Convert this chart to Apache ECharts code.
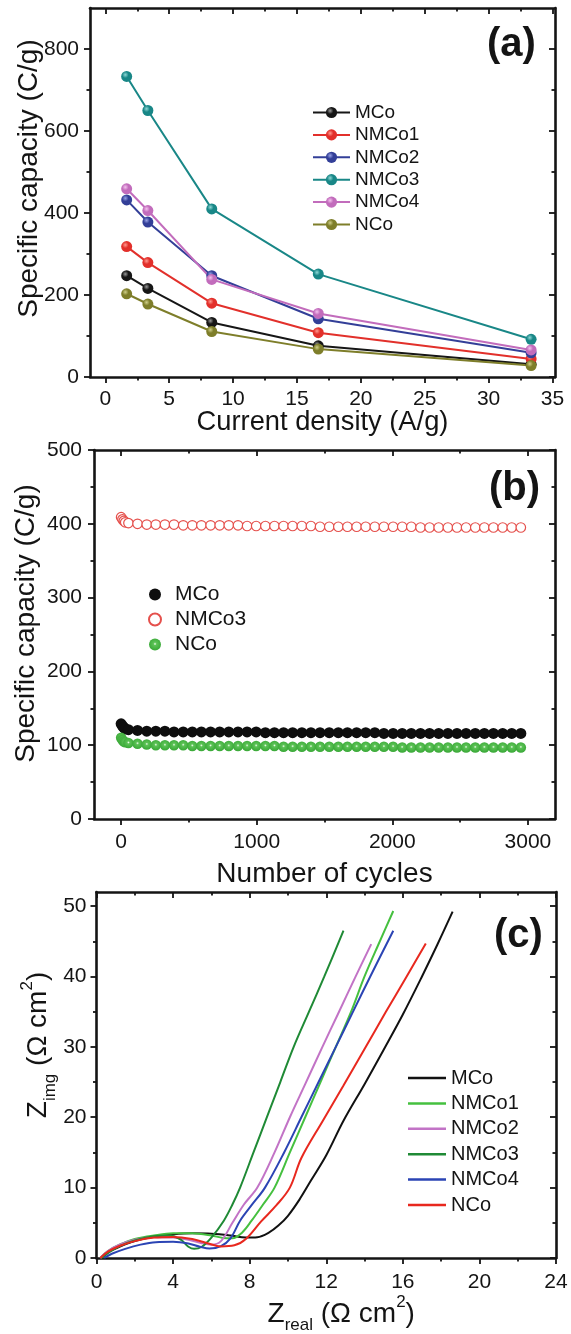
<!DOCTYPE html>
<html><head><meta charset="utf-8">
<script src="https://cdn.jsdelivr.net/npm/echarts@6/dist/echarts.min.js"></script>
<style>html,body{margin:0;padding:0;background:#fff}#c{width:571px;height:1334px}</style>
</head><body><div id="c"></div>
<script>
// ---------- Panel (a): rate capability ----------
const densityA   = [1.67, 3.33, 8.33, 16.67, 33.33];
const capA_MCo   = [247, 216, 133, 76, 31];
const capA_NMCo1 = [318, 279, 180, 108, 44];
const capA_NMCo2 = [432, 378, 247, 142, 59];
const capA_NMCo3 = [733, 650, 410, 251, 92];
const capA_NMCo4 = [459, 406, 238, 155, 66];
const capA_NCo   = [203, 178, 111, 68, 28];
const ticksAx = [0, 5, 10, 15, 20, 25, 30, 35];
const minorAx = [2.5, 7.5, 12.5, 17.5, 22.5, 27.5, 32.5];
const ticksAy = [0, 200, 400, 600, 800];
const minorAy = [100, 300, 500, 700];

// ---------- Panel (b): cycling stability ----------
const cyclesB = [0,10,20,30,54,121,189,256,323,390,458,525,
  592,660,727,794,862,929,996,1064,1131,1198,1265,1333,
  1400,1467,1535,1602,1669,1737,1804,1871,1938,2006,2073,2140,
  2208,2275,2342,2410,2477,2544,2612,2679,2746,2814,2881,2948];
const capB_MCo = [129,126,124,122,121,120,119,119,119,118,118,118,
  118,118,118,118,118,118,118,117,117,117,117,117,
  117,117,117,117,117,117,117,117,116,116,116,116,
  116,116,116,116,116,116,116,116,116,116,116,116];
const capB_NMCo3 = [409,406,404,402,401,400,399,399,399,399,398,398,
  398,398,398,398,398,397,397,397,397,397,397,397,
  397,396,396,396,396,396,396,396,396,396,396,396,
  395,395,395,395,395,395,395,395,395,395,395,395];
const capB_NCo = [110,107,105,104,103,102,101,100,100,100,100,99,
  99,99,99,99,99,99,99,99,99,98,98,98,
  98,98,98,98,98,98,98,98,98,98,97,97,
  97,97,97,97,97,97,97,97,97,97,97,97];
const ticksBx = [0, 1000, 2000, 3000];
const minorBx = [500, 1500, 2500];
const ticksBy = [0, 100, 200, 300, 400, 500];
const minorBy = [50, 150, 250, 350, 450];

// ---------- Panel (c): Nyquist plots [Zreal, Zimg] ----------
const nyqMCo = [[0.2,0],[0.6,0.8],[1.2,1.6],[2,2.4],[3,3.0],[4,3.35],[5,3.5],[6,3.45],[7,3.2],[7.8,2.9],[8.4,2.95],[9,3.6],[9.5,4.6],[10,6],[10.6,8.3],[11.2,11],[12,14.6],[12.9,19.5],[14,24.7],[15,29.6],[16,34.6],[17,40],[17.8,44.5],[18.6,49.2]];
const nyqNMCo1 = [[0.2,0],[0.6,1.0],[1.2,1.9],[2,2.7],[3,3.2],[4,3.5],[5,3.5],[6,3.2],[6.6,2.85],[7.1,2.8],[7.6,3.6],[8.1,5.3],[8.7,7.6],[9.3,10],[10.1,15],[10.9,20],[11.7,25],[12.5,30],[13.3,35],[14.0,40],[14.8,45],[15.5,49.3]];
const nyqNMCo2 = [[0.2,0],[0.6,1.0],[1.2,1.9],[2,2.6],[3,2.95],[4,2.9],[4.8,2.6],[5.5,2.1],[6,1.9],[6.5,2.4],[7.1,5.0],[7.7,7.6],[8.4,10],[9.3,15],[10.1,20],[10.9,24.7],[11.8,30],[12.6,34.6],[13.5,39.8],[14.35,44.6]];
const nyqNMCo3 = [[0.3,0],[0.7,0.9],[1.3,1.8],[2,2.5],[3,3.1],[3.8,3.2],[4.4,2.6],[4.8,1.6],[5.1,1.3],[5.5,1.6],[6,2.9],[6.65,5.3],[7.1,7.6],[7.5,10],[8.2,15],[8.9,20],[9.6,25],[10.3,30],[11.1,35],[11.9,40],[12.9,46.5]];
const nyqNMCo4 = [[0.4,0],[0.8,0.6],[1.5,1.3],[2.3,1.9],[3.1,2.25],[4,2.3],[4.8,2.05],[5.4,1.6],[5.9,1.35],[6.5,1.7],[7,2.8],[7.5,5.3],[8.1,7.5],[8.8,10],[9.8,15],[10.7,20],[11.6,25],[12.5,30],[13.4,35],[14.3,40],[15.5,46.5]];
const nyqNCo = [[0.2,0],[0.6,0.9],[1.2,1.7],[2,2.4],[3,2.9],[4,3.0],[5,2.7],[5.8,2.1],[6.5,1.65],[7.2,1.8],[7.8,2.7],[8.6,5.2],[9.4,7.5],[10.1,10],[10.7,14.2],[11.8,19.4],[12.9,24.5],[14.0,29.7],[15.1,34.9],[16.2,40.0],[17.2,44.7]];
const ticksCx = [0, 4, 8, 12, 16, 20, 24];
const minorCx = [2, 6, 10, 14, 18, 22];
const ticksCy = [0, 10, 20, 30, 40, 50];
const minorCy = [5, 15, 25, 35, 45];

const FF = "'Liberation Sans', Arial, sans-serif";
const INK = '#141414';

function tk(vals, len, inside) {
  return {show: true, customValues: vals, length: len, inside: inside, lineStyle: {color: INK, width: 1.8}};
}
function axisSet(dim, gi, s) {
  const pos = dim === 'x' ? ['bottom', 'top'] : ['left', 'right'];
  const base = {gridIndex: gi, type: 'value', min: s.min, max: s.max, scale: false,
    splitLine: {show: false}, silent: true, axisPointer: {show: false}};
  const line = {show: true, onZero: false, lineStyle: {color: INK, width: 2.6}};
  const noLine = {show: false, onZero: false};
  const off = {show: false};
  return [
    Object.assign({}, base, {position: pos[0], axisLine: line, axisTick: tk(s.major, 6, false),
      axisLabel: {customValues: s.major, margin: s.margin, fontSize: 21, color: INK, fontFamily: FF,
        showMinLabel: true, showMaxLabel: true, hideOverlap: false, formatter: v => String(v)},
      name: s.name, nameLocation: 'middle', nameGap: s.nameGap, nameRotate: dim === 'y' ? 90 : 0,
      nameMoveOverlap: false, nameTextStyle: s.nameStyle}),
    Object.assign({}, base, {position: pos[0], axisLine: noLine, axisTick: tk(s.minor, 3.5, false), axisLabel: off}),
    Object.assign({}, base, {position: pos[1], axisLine: line, axisTick: tk(s.major, 6, true), axisLabel: off}),
    Object.assign({}, base, {position: pos[1], axisLine: noLine, axisTick: tk(s.minor, 3.5, true), axisLabel: off})
  ];
}
const titleStyle = (size, pad) => ({fontSize: size, color: INK, fontFamily: FF, padding: pad});
const richName = (pad) => ({fontSize: 28, color: INK, fontFamily: FF, lineHeight: 40, padding: pad,
  rich: {s: {fontSize: 17, color: INK, fontFamily: FF, lineHeight: 16, verticalAlign: 'bottom'},
         p: {fontSize: 17, color: INK, fontFamily: FF, lineHeight: 20, verticalAlign: 'top'}}});

const xAxes = [].concat(
  axisSet('x', 0, {min: -1.2, max: 35.2, major: ticksAx, minor: minorAx, margin: 12,
    name: 'Current density (A/g)', nameGap: 32, nameStyle: titleStyle(27.3, [0,0,0,0])}),
  axisSet('x', 1, {min: -200, max: 3200, major: ticksBx, minor: minorBx, margin: 13,
    name: 'Number of cycles', nameGap: 41, nameStyle: titleStyle(28, [0,0,0,0])}),
  axisSet('x', 2, {min: 0, max: 24, major: ticksCx, minor: minorCx, margin: 14,
    name: 'Z{s|real} (\u03A9 cm{p|2})', nameGap: 36, nameStyle: richName([0,0,0,30])})
);
const yAxes = [].concat(
  axisSet('y', 0, {min: 0, max: 900, major: ticksAy, minor: minorAy, margin: 11,
    name: 'Specific capacity (C/g)', nameGap: 47, nameStyle: titleStyle(28, [0,0,0,28])}),
  axisSet('y', 1, {min: 0, max: 500, major: ticksBy, minor: minorBy, margin: 12,
    name: 'Specific capacity (C/g)', nameGap: 54, nameStyle: titleStyle(28, [0,0,0,22])}),
  axisSet('y', 2, {min: 0, max: 52, major: ticksCy, minor: minorCy, margin: 10,
    name: 'Z{s|img} (\u03A9 cm{p|2})', nameGap: 38, nameStyle: richName([0,0,0,60])})
);

function ball(base, light) {
  return {type: 'radial', x: 0.38, y: 0.35, r: 0.65,
    colorStops: [{offset: 0, color: light}, {offset: 0.45, color: base}, {offset: 1, color: base}]};
}
function seriesA(name, vals, line, base, light) {
  return {name: 'a:' + name, type: 'line', xAxisIndex: 0, yAxisIndex: 0,
    data: densityA.map((d, i) => [d, vals[i]]), symbol: 'circle', symbolSize: 11,
    color: line, lineStyle: {color: line, width: 2}, itemStyle: {color: ball(base, light)}, z: 3};
}
function seriesB(name, vals, itemStyle, size) {
  return {name: 'b:' + name, type: 'scatter', xAxisIndex: 4, yAxisIndex: 4,
    data: cyclesB.map((c, i) => [c, vals[i]]), symbol: 'circle', symbolSize: size,
    itemStyle: Object.assign({opacity: 1}, itemStyle), z: 3};
}
function seriesC(name, pts, color) {
  return {name: 'c:' + name, type: 'line', xAxisIndex: 8, yAxisIndex: 8, data: pts,
    symbol: 'none', smooth: 0.35, color: color, lineStyle: {color: color, width: 2}, z: 3};
}

const series = [
  seriesA('MCo', capA_MCo, '#161616', '#161616', '#9a9a9a'),
  seriesA('NMCo1', capA_NMCo1, '#e2302b', '#e2302b', '#ff9a90'),
  seriesA('NMCo2', capA_NMCo2, '#333f98', '#333f98', '#98a2e6'),
  seriesA('NMCo3', capA_NMCo3, '#198787', '#198787', '#8fd8d6'),
  seriesA('NMCo4', capA_NMCo4, '#c26cbc', '#c26cbc', '#f4c2ee'),
  seriesA('NCo', capA_NCo, '#7e7e2a', '#7e7e2a', '#cfcf8a'),
  seriesB('MCo', capB_MCo, {color: '#0e0e0e'}, 11),
  seriesB('NMCo3', capB_NMCo3, {color: '#fff', borderColor: '#e5504c', borderWidth: 1.2}, 9.5),
  seriesB('NCo', capB_NCo, {color: {type: 'radial', x: 0.5, y: 0.45, r: 0.55,
    colorStops: [{offset: 0, color: '#f2fff0'}, {offset: 0.25, color: '#5cc256'}, {offset: 1, color: '#38a836'}]}}, 10.5),
  seriesC('MCo', nyqMCo, '#111111'),
  seriesC('NMCo1', nyqNMCo1, '#45c03f'),
  seriesC('NMCo2', nyqNMCo2, '#c273c6'),
  seriesC('NMCo3', nyqNMCo3, '#1f8a35'),
  seriesC('NMCo4', nyqNMCo4, '#2b44b4'),
  seriesC('NCo', nyqNCo, '#e8281e')
];

const strip = n => n.slice(2);
const option = {
  animation: false,
  backgroundColor: '#fff',
  grid: [
    {left: 90, right: 16, top: 8, height: 369, outerBoundsMode: 'none'},
    {left: 94, right: 16, top: 450, height: 369, outerBoundsMode: 'none'},
    {left: 96.5, right: 15, top: 892, height: 366, outerBoundsMode: 'none'}
  ],
  xAxis: xAxes,
  yAxis: yAxes,
  legend: [
    {orient: 'vertical', left: 307, top: 98, itemWidth: 37, itemHeight: 14, itemGap: 3.4,
      selectedMode: false, formatter: strip,
      data: ['a:MCo', 'a:NMCo1', 'a:NMCo2', 'a:NMCo3', 'a:NMCo4', 'a:NCo'],
      textStyle: {fontSize: 19, color: INK, fontFamily: FF}},
    {orient: 'vertical', left: 143, top: 579, itemWidth: 12, itemHeight: 12, itemGap: 4,
      selectedMode: false, formatter: strip,
      data: ['b:MCo', 'b:NMCo3', 'b:NCo'],
      textStyle: {fontSize: 21, color: INK, fontFamily: FF, padding: [0, 0, 0, 9]}},
    {orient: 'vertical', left: 403, top: 1063, itemWidth: 38, itemHeight: 2.5, itemGap: 5.4, icon: 'rect',
      selectedMode: false, formatter: strip,
      data: ['c:MCo', 'c:NMCo1', 'c:NMCo2', 'c:NMCo3', 'c:NMCo4', 'c:NCo'],
      textStyle: {fontSize: 20, color: INK, fontFamily: FF}}
  ],
  graphic: [
    {type: 'text', x: 487, y: 45, style: {text: '(a)', fontSize: 40, fontWeight: 'bold', fontFamily: FF, fill: INK, align: 'left', verticalAlign: 'middle'}},
    {type: 'text', x: 489, y: 489, style: {text: '(b)', fontSize: 40, fontWeight: 'bold', fontFamily: FF, fill: INK, align: 'left', verticalAlign: 'middle'}},
    {type: 'text', x: 494, y: 936, style: {text: '(c)', fontSize: 40, fontWeight: 'bold', fontFamily: FF, fill: INK, align: 'left', verticalAlign: 'middle'}}
  ],
  series: series
};
const chart = echarts.init(document.getElementById('c'), null, {renderer: 'canvas'});
chart.setOption(option);
</script>
</body></html>
